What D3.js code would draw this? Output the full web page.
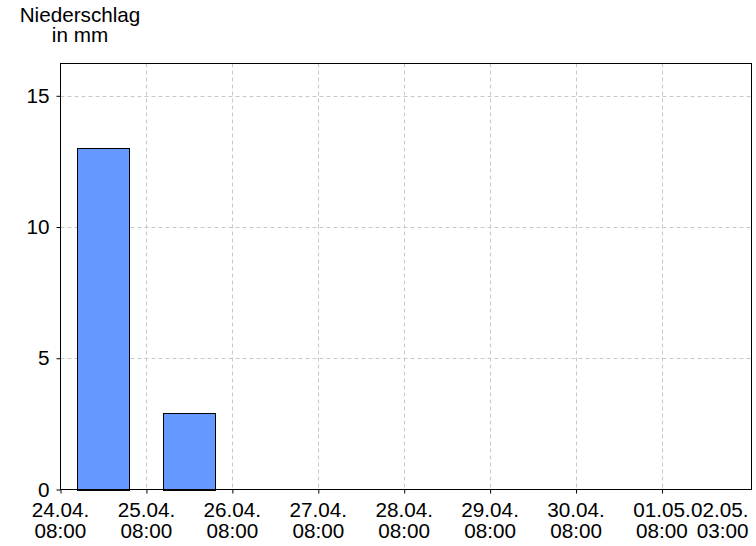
<!DOCTYPE html>
<html><head><meta charset="utf-8">
<script src="https://cdn.jsdelivr.net/npm/d3@7"></script>
<style>body{margin:0;background:#fff;} text{font-family:"Liberation Sans",Arial,sans-serif;}</style>
</head><body>
<svg id="c" width="756" height="546"></svg>
<script>
// Data
const dayStarts = ["2024-04-24T08:00","2024-04-25T08:00","2024-04-26T08:00","2024-04-27T08:00","2024-04-28T08:00","2024-04-29T08:00","2024-04-30T08:00","2024-05-01T08:00"];
const precip = [13.0, 2.9, 0, 0, 0, 0, 0, 0];
const tickLabels = [["24.04.","08:00"],["25.04.","08:00"],["26.04.","08:00"],["27.04.","08:00"],["28.04.","08:00"],["29.04.","08:00"],["30.04.","08:00"],["01.05.","08:00"]];
const endLabel = ["02.05.","03:00"];
const yTicks = [0,5,10,15];
const domainStart = "2024-04-24T08:00";
const domainEnd = "2024-05-02T09:00";
const yMax = 16.23;
const title = ["Niederschlag","in mm"];

const parse = d3.timeParse("%Y-%m-%dT%H:%M");
const svg = d3.select("#c");
const L=60.5, R=751.5, T=63.5, B=489.5;
const FS = "20.7px";
const x = d3.scaleTime().domain([parse(domainStart), parse(domainEnd)]).range([L,R]);
const y = d3.scaleLinear().domain([0,yMax]).range([B,T]);

// grid
const g = svg.append("g");
g.selectAll(".hg").data(yTicks.filter(d=>d>0)).join("line")
 .attr("x1",L).attr("x2",R).attr("y1",d=>Math.round(y(d))+0.5).attr("y2",d=>Math.round(y(d))+0.5)
 .attr("stroke","#c8c8c8").attr("stroke-dasharray","4,3");
g.selectAll(".vg").data(dayStarts.slice(1)).join("line")
 .attr("x1",d=>Math.round(x(parse(d)))+0.5).attr("x2",d=>Math.round(x(parse(d)))+0.5).attr("y1",T).attr("y2",B)
 .attr("stroke","#c8c8c8").attr("stroke-dasharray","4,3");

// bars
const dayMs = 86400000;
svg.selectAll(".bar").data(precip.map((v,i)=>({v, s:parse(dayStarts[i])}))).join("rect")
 .filter(d=>d.v>0)
 .attr("x",d=>Math.floor(x(new Date(+d.s+0.2*dayMs)))+0.5)
 .attr("width",d=>Math.floor(x(new Date(+d.s+0.8*dayMs)))-Math.floor(x(new Date(+d.s+0.2*dayMs))))
 .attr("y",d=>Math.round(y(d.v))+0.5)
 .attr("height",d=>Math.round(B)-Math.round(y(d.v)))
 .attr("fill","#6699ff").attr("stroke","#000").attr("stroke-width",1);

// frame
svg.append("rect").attr("x",L).attr("y",T).attr("width",R-L).attr("height",B-T)
 .attr("fill","none").attr("stroke","#000").attr("stroke-width",1);

// y axis
const ya = svg.append("g").attr("transform",`translate(${L},0)`)
 .call(d3.axisLeft(y).tickValues(yTicks).tickSize(4).tickPadding(7));
ya.select(".domain").remove();
ya.selectAll("line").attr("stroke","#000");
ya.selectAll("text").attr("font-size",FS).attr("fill","#000").attr("font-family","Liberation Sans, Arial, sans-serif");

// x axis
const xa = svg.append("g").attr("transform",`translate(0,${B})`)
 .call(d3.axisBottom(x).tickValues(dayStarts.map(parse)).tickSize(4).tickFormat(""));
xa.select(".domain").remove();
xa.selectAll("line").attr("stroke","#000");
const lab = svg.append("g");
dayStarts.forEach((d,i)=>{
  const t = lab.append("text").attr("x",x(parse(d))).attr("y",517).attr("text-anchor","middle")
   .attr("font-size",FS).attr("fill","#000");
  t.append("tspan").attr("x",x(parse(d))).text(tickLabels[i][0]);
  t.append("tspan").attr("x",x(parse(d))).attr("dy",21).text(tickLabels[i][1]);
});
const te = lab.append("text").attr("y",517).attr("text-anchor","end").attr("font-size",FS).attr("fill","#000");
te.append("tspan").attr("x",R-3).text(endLabel[0]);
te.append("tspan").attr("x",R-3).attr("dy",21).text(endLabel[1]);

// title
const tt = svg.append("text").attr("text-anchor","middle").attr("font-size",FS).attr("fill","#000");
tt.append("tspan").attr("x",80).attr("y",22).text(title[0]);
tt.append("tspan").attr("x",80).attr("y",42).text(title[1]);
</script>
</body></html>
